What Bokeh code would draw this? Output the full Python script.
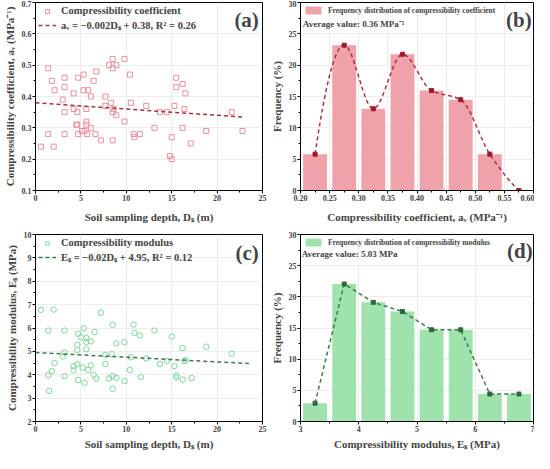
import numpy as np
from bokeh.plotting import figure
from bokeh.layouts import gridplot
from bokeh.models import Label, Legend, LegendItem, Range1d, FixedTicker, NumeralTickFormatter
from bokeh.embed import file_html
from bokeh.resources import INLINE

# ---------------- data ----------------
depth_a = [0.6, 1.4, 1.4, 1.8, 2.0, 2.1, 3.0, 3.2, 3.2, 3.2, 3.2, 4.2, 4.2, 4.5, 4.6, 4.7, 4.6, 4.7, 5.1, 5.3,
           5.3, 5.4, 5.6, 5.6, 5.6, 5.7, 5.8, 6.1, 6.1, 6.4, 6.6, 6.7, 7.2, 7.7, 7.7, 8.1, 8.3, 8.5, 8.5, 8.5,
           8.6, 8.5, 8.9, 8.9, 9.8, 9.8, 10.4, 10.5, 10.8, 10.9, 11.5, 12.2, 13.1, 13.7, 14.5, 14.8, 15.0, 15.0, 15.3, 15.5,
           15.5, 16.2, 16.2, 16.4, 16.5, 17.1, 18.8, 21.6, 22.8]
av = [0.24, 0.49, 0.28, 0.45, 0.24, 0.42, 0.39, 0.46, 0.43, 0.35, 0.28, 0.41, 0.36, 0.31, 0.31, 0.46, 0.35, 0.28, 0.29, 0.47,
      0.42, 0.29, 0.36, 0.32, 0.31, 0.28, 0.42, 0.40, 0.30, 0.45, 0.28, 0.48, 0.26, 0.40, 0.37, 0.50, 0.38, 0.49, 0.52, 0.35,
      0.36, 0.26, 0.50, 0.34, 0.52, 0.32, 0.47, 0.38, 0.28, 0.27, 0.28, 0.37, 0.30, 0.35, 0.35, 0.21, 0.20, 0.27, 0.37, 0.46,
      0.43, 0.44, 0.30, 0.36, 0.41, 0.25, 0.29, 0.35, 0.29]
fit_a = {"slope": -0.002, "intercept": 0.38, "x": [0.0, 23.0]}

depth_c = [0.6, 2.0, 1.4, 1.4, 1.5, 1.8, 2.1, 3.0, 3.2, 3.2, 3.2, 4.2, 4.2, 4.6, 4.6, 4.6, 4.7, 4.7, 5.0, 5.2,
           5.3, 5.4, 5.6, 5.6, 5.6, 5.8, 6.1, 6.1, 6.4, 6.5, 6.7, 7.2, 7.7, 7.7, 8.1, 8.5, 8.4, 8.5, 8.5, 8.9,
           8.9, 9.8, 9.8, 10.4, 10.5, 10.8, 10.9, 11.5, 11.6, 12.2, 13.1, 13.7, 14.5, 15.0, 15.3, 15.5, 15.5, 16.2, 16.2, 16.4,
           16.5, 17.2, 18.8, 21.6]
es = [6.78, 6.79, 5.89, 3.98, 3.31, 4.16, 4.50, 4.78, 5.89, 4.95, 3.94, 4.37, 4.19, 5.05, 5.28, 4.45, 5.76, 3.77, 5.60, 4.30,
      5.99, 3.65, 5.57, 5.09, 5.40, 4.21, 5.43, 4.40, 4.00, 5.83, 3.84, 6.65, 4.85, 4.46, 3.84, 6.14, 4.88, 3.94, 3.40, 5.34,
      3.87, 5.39, 3.73, 4.20, 4.75, 6.15, 5.79, 5.68, 3.90, 4.70, 5.89, 4.46, 4.59, 5.63, 4.37, 3.97, 3.88, 5.14, 3.79, 4.58,
      4.63, 3.86, 5.20, 4.90]
fit_c = {"slope": -0.02, "intercept": 4.95, "x": [0.0, 23.5]}

av_bins = [0.225, 0.275, 0.325, 0.375, 0.425, 0.475, 0.525]
av_freq = [5.80, 23.19, 13.04, 21.74, 15.94, 14.49, 5.80]
av_poly_x = [0.225, 0.275, 0.325, 0.375, 0.425, 0.475, 0.525, 0.575]
av_poly_y = [5.80, 23.19, 13.04, 21.74, 15.94, 14.49, 5.80, 0.0]

es_bins = [3.25, 3.75, 4.25, 4.75, 5.25, 5.75, 6.25, 6.75]
es_freq = [2.94, 22.06, 19.12, 17.65, 14.71, 14.71, 4.41, 4.41]

FONT = "Liberation Serif"
PINK_M = "#e8909c"
PINK_BAR = "#efa2aa"
RED_L = "#a8323f"
RED_M = "#9e1a2b"
GREEN_M = "#80d897"
GREEN_BAR = "#a0e2ad"
GREEN_L = "#3e7a4e"
GREEN_MK = "#2c6a3c"


def pchip(xs, ys, n=300):
    """Monotone (Fritsch-Carlson) cubic curve through the given points, for drawing."""
    xs = np.asarray(xs, float)
    ys = np.asarray(ys, float)
    h = np.diff(xs)
    d = np.diff(ys) / h
    k = len(xs)
    m = np.zeros(k)
    for i in range(1, k - 1):
        if d[i - 1] * d[i] > 0:
            w1 = 2 * h[i] + h[i - 1]
            w2 = h[i] + 2 * h[i - 1]
            m[i] = (w1 + w2) / (w1 / d[i - 1] + w2 / d[i])
        else:
            m[i] = 0.0

    def end_slope(h0, h1, d0, d1):
        s = ((2 * h0 + h1) * d0 - h0 * d1) / (h0 + h1)
        if np.sign(s) != np.sign(d0):
            s = 0.0
        elif np.sign(d0) != np.sign(d1) and abs(s) > abs(3 * d0):
            s = 3 * d0
        return s

    m[0] = end_slope(h[0], h[1], d[0], d[1])
    m[-1] = end_slope(h[-1], h[-2], d[-1], d[-2])
    xx = np.linspace(xs[0], xs[-1], n)
    yy = np.empty_like(xx)
    for j, x in enumerate(xx):
        i = min(np.searchsorted(xs, x, side="right") - 1, k - 2)
        t = (x - xs[i]) / h[i]
        h00 = 2 * t ** 3 - 3 * t ** 2 + 1
        h10 = t ** 3 - 2 * t ** 2 + t
        h01 = -2 * t ** 3 + 3 * t ** 2
        h11 = t ** 3 - t ** 2
        yy[j] = h00 * ys[i] + h10 * h[i] * m[i] + h01 * ys[i + 1] + h11 * h[i] * m[i + 1]
    return xx, yy


def make_fig(w, h, xr, yr, bl, br, bt, bb, xstand=3):
    p = figure(width=w, height=h, x_range=Range1d(*xr), y_range=Range1d(*yr),
               output_backend="svg", toolbar_location=None,
               min_border_left=bl, min_border_right=br, min_border_top=bt, min_border_bottom=bb)
    p.outline_line_color = "black"
    p.outline_line_width = 1
    p.outline_line_alpha = 1
    p.grid.grid_line_color = "#ededed"
    p.grid.grid_line_width = 1
    for ax in p.axis:
        ax.axis_label_text_font = FONT
        ax.axis_label_text_font_style = "bold"
        ax.axis_label_text_font_size = "11px"
        ax.axis_label_standoff = 3
        ax.major_label_text_font = FONT
        ax.major_label_text_font_style = "bold"
        ax.major_label_text_font_size = "8px"
        ax.major_label_standoff = 1
        ax.major_tick_in = 0
        ax.major_tick_out = 3
        ax.minor_tick_in = 0
        ax.minor_tick_out = 2
        ax.axis_line_color = "black"
        ax.major_tick_line_color = "black"
        ax.minor_tick_line_color = "black"
    p.xaxis.axis_label_standoff = xstand
    return p


def ticks(lo, hi, step):
    n = int(round((hi - lo) / step))
    major = [round(lo + i * step, 6) for i in range(n + 1)]
    minor = [round(lo + (i + 0.5) * step, 6) for i in range(n)]
    return FixedTicker(ticks=major, minor_ticks=minor)


def style_legend(leg, size="10.5px", gw=18, gh=10):
    leg.location = "top_left"
    leg.background_fill_alpha = 0
    leg.border_line_alpha = 0
    leg.label_text_font = FONT
    leg.label_text_font_style = "bold"
    leg.label_text_font_size = size
    leg.glyph_width = gw
    leg.glyph_height = gh
    leg.label_height = 10
    leg.spacing = 2
    leg.padding = 2
    leg.margin = 1
    leg.label_standoff = 5


def panel_label(p, x, y, t):
    p.add_layout(Label(x=x, y=y, text=t, text_font=FONT, text_font_style="bold",
                       text_font_size="21px", text_align="right", text_baseline="middle"))


# ---------------- (a) ----------------
pa = make_fig(267, 226, (0, 25), (0.1, 0.7), 25, 5, 2, 36, xstand=7)
pa.xaxis.ticker = ticks(0, 25, 5)
pa.yaxis.ticker = ticks(0.1, 0.7, 0.1)
pa.xaxis.axis_label = "Soil sampling depth, Dₛ (m)"
pa.yaxis.axis_label = "Compressibility coefficient, aᵥ (MPa⁻¹)"
ra = pa.scatter(depth_a, av, marker="square", size=5, fill_color=None, line_color=PINK_M, line_width=1)
fx = np.array(fit_a["x"])
la = pa.line(fx, fit_a["slope"] * fx + fit_a["intercept"], line_color=RED_L, line_width=1.5, line_dash="4 3")
leg_a = Legend(items=[LegendItem(label="Compressibility coefficient", renderers=[ra]),
                      LegendItem(label="aᵥ = −0.002Dₛ + 0.38, R² = 0.26", renderers=[la])])
style_legend(leg_a)
pa.add_layout(leg_a)
panel_label(pa, 24.6, 0.645, "(a)")

# ---------------- (b) ----------------
pb = make_fig(267, 226, (0.2, 0.6), (0, 30), 32, 1, 2, 36, xstand=7)
pb.xaxis.ticker = ticks(0.2, 0.6, 0.05)
pb.xaxis.formatter = NumeralTickFormatter(format="0.00")
pb.yaxis.ticker = ticks(0, 30, 5)
pb.xaxis.axis_label = "Compressibility coefficient, aᵥ (MPa⁻¹)"
pb.yaxis.axis_label = "Frequency (%)"
rb = pb.vbar(x=av_bins, top=av_freq, width=0.041, fill_color=PINK_BAR, line_color=None)
sx, sy = pchip(av_poly_x, av_poly_y)
pb.line(sx, sy, line_color=RED_L, line_width=1.5, line_dash="4 3")
pb.scatter(av_poly_x, av_poly_y, marker="square", size=4, fill_color=RED_M, line_color=RED_M)
leg_b = Legend(items=[LegendItem(label="Frequency distribution of compressibility coefficient", renderers=[rb])])
style_legend(leg_b, size="7.5px", gw=20, gh=10)
pb.add_layout(leg_b)
pb.add_layout(Label(x=0.204, y=26.6, text="Average value: 0.36 MPa⁻¹", text_font=FONT, text_font_style="bold",
                    text_font_size="9px", text_baseline="middle"))
panel_label(pb, 0.597, 27.2, "(b)")

# ---------------- (c) ----------------
pc = make_fig(267, 226, (0, 25), (2, 10), 25, 5, 8, 27)
pc.xaxis.ticker = ticks(0, 25, 5)
pc.yaxis.ticker = ticks(2, 10, 1)
pc.xaxis.axis_label = "Soil sampling depth, Dₛ (m)"
pc.yaxis.axis_label = "Compressibility modulus, Eₛ (MPa)"
rc = pc.scatter(depth_c, es, marker="circle", size=5.5, fill_color=None, line_color=GREEN_M, line_width=1)
fx = np.array(fit_c["x"])
lc = pc.line(fx, fit_c["slope"] * fx + fit_c["intercept"], line_color=GREEN_L, line_width=1.5, line_dash="4 3")
leg_c = Legend(items=[LegendItem(label="Compressibility modulus", renderers=[rc]),
                      LegendItem(label="Eₛ = −0.02Dₛ + 4.95, R² = 0.12", renderers=[lc])])
style_legend(leg_c)
pc.add_layout(leg_c)
panel_label(pc, 24.6, 9.2, "(c)")

# ---------------- (d) ----------------
pd_ = make_fig(267, 226, (3, 7), (0, 30), 32, 1, 8, 27)
pd_.xaxis.ticker = ticks(3, 7, 1)
pd_.yaxis.ticker = ticks(0, 30, 5)
pd_.xaxis.axis_label = "Compressibility modulus, Eₛ (MPa)"
pd_.yaxis.axis_label = "Frequency (%)"
rd = pd_.vbar(x=es_bins, top=es_freq, width=0.41, fill_color=GREEN_BAR, line_color=None)
pd_.line(es_bins, es_freq, line_color=GREEN_L, line_width=1.5, line_dash="4 3")
pd_.scatter(es_bins, es_freq, marker="square", size=4, fill_color=GREEN_MK, line_color=GREEN_MK)
leg_d = Legend(items=[LegendItem(label="Frequency distribution of compressibility modulus", renderers=[rd])])
style_legend(leg_d, size="7.5px", gw=20, gh=10)
pd_.add_layout(leg_d)
pd_.add_layout(Label(x=3.02, y=26.8, text="Average value: 5.03 MPa", text_font=FONT, text_font_style="bold",
                     text_font_size="9px", text_baseline="middle"))
panel_label(pd_, 6.985, 27.4, "(d)")

grid = gridplot([[pa, pb], [pc, pd_]], toolbar_location=None)
open("out.html", "w").write(file_html(grid, INLINE))
